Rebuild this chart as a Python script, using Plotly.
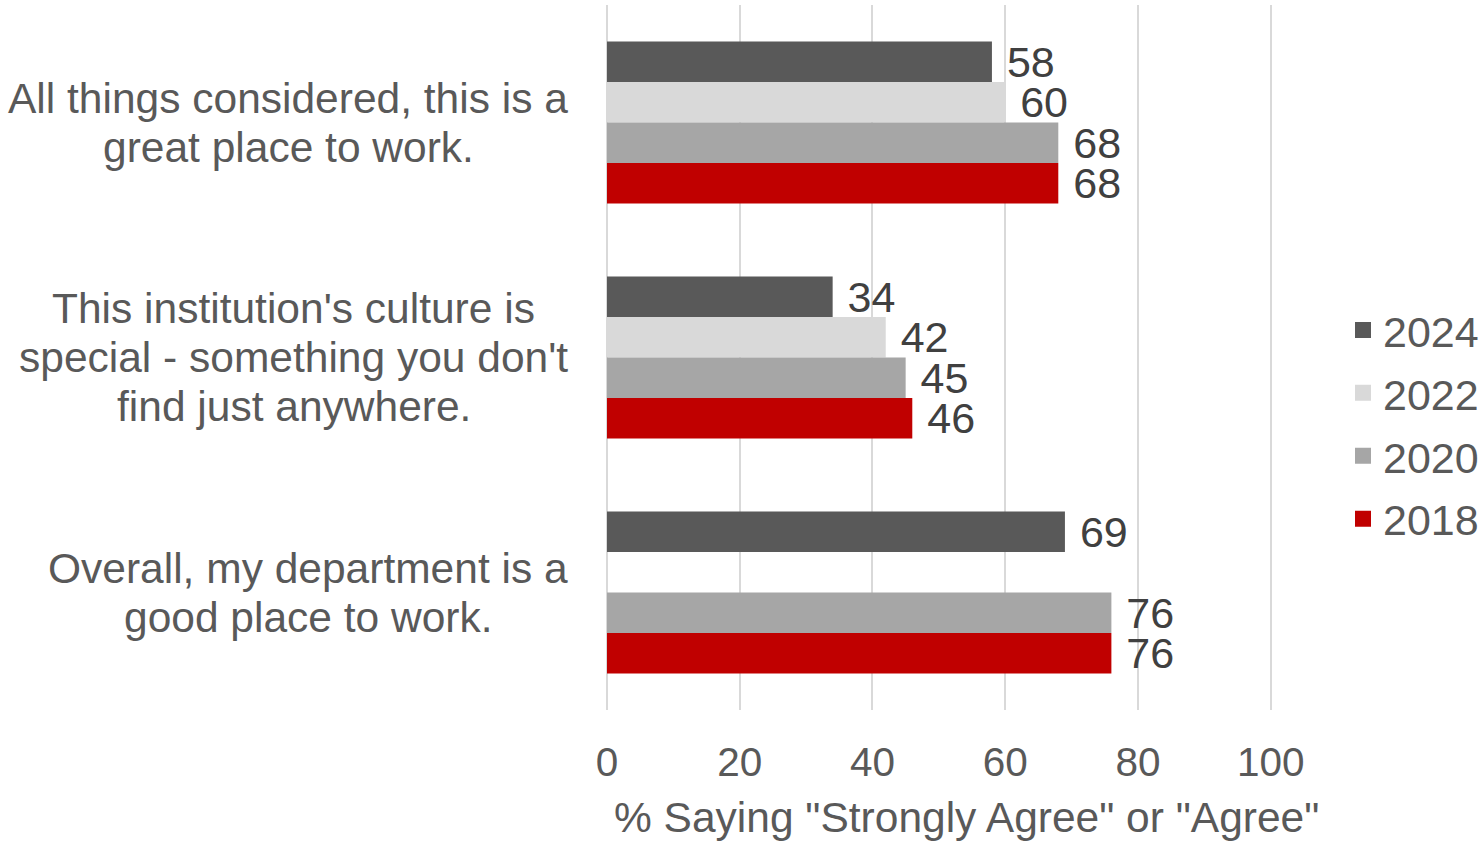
import plotly.graph_objects as go

# Survey statements (top to bottom)
categories = [
    "All things considered, this is a<br>great place to work.",
    "This institution's culture is<br>special - something you don't<br>find just anywhere.",
    "Overall, my department is a<br>good place to work.",
]

# Percent agreeing, by survey year
years = ["2024", "2022", "2020", "2018"]
values_2024 = [58, 34, 69]
values_2022 = [60, 42, None]
values_2020 = [68, 45, 76]
values_2018 = [68, 46, 76]

x_ticks = [0, 20, 40, 60, 80, 100]
x_title = '% Saying "Strongly Agree" or "Agree"'

series = [values_2024, values_2022, values_2020, values_2018]
colors = ["#595959", "#D9D9D9", "#A6A6A6", "#C00000"]

FONT = "Arial, Liberation Sans, sans-serif"
FS_CAT = 42.5
FS_VAL = 43
FS_TICK = 40.5
FS_LEG = 43
TEXT_GREY = "#595959"
LABEL_GREY = "#404040"

# Plot-area geometry in pixels
PLOT_LEFT = 607
PLOT_W = 665.3
LABEL_RIGHT = 568  # right edge of the category label blocks
LINE_H = 49

# Arial / Liberation Sans advance widths (1/1000 em) for label text
_W = {
    " ": 278, "'": 191, ",": 278, "-": 333, ".": 278,
    "A": 667, "O": 778, "T": 722,
    "a": 556, "b": 556, "c": 500, "d": 556, "e": 556, "f": 278, "g": 556,
    "h": 556, "i": 222, "j": 222, "k": 500, "l": 222, "m": 833, "n": 556,
    "o": 556, "p": 556, "q": 556, "r": 333, "s": 500, "t": 278, "u": 556,
    "v": 500, "w": 722, "x": 500, "y": 500, "z": 500,
}


def text_width(s, size):
    return sum(_W.get(ch, 556) for ch in s) / 1000 * size


fig = go.Figure()

for name, vals, col in zip(years, series, colors):
    fig.add_trace(go.Bar(
        name=name,
        y=categories,
        x=vals,
        orientation="h",
        marker=dict(color=col, line=dict(width=0)),
        text=[None if v is None else str(v) for v in vals],
        texttemplate="\u00a0%{text}",
        textposition="outside",
        constraintext="none",
        cliponaxis=False,
        outsidetextfont=dict(family=FONT, size=FS_VAL, color=LABEL_GREY),
        showlegend=False,
    ))

# Legend entries with larger square swatches
for name, col in zip(years, colors):
    fig.add_trace(go.Scatter(
        x=[None], y=[None], mode="markers", name=name,
        legendgroup=name,
        marker=dict(symbol="square", size=22, color=col),
        showlegend=True,
    ))

# Category labels: each block right-aligned, lines centred within the block
annotations = []
for cat in categories:
    lines = cat.split("<br>")
    n = len(lines)
    block_w = max(text_width(l, FS_CAT) for l in lines)
    centre_px = LABEL_RIGHT - block_w / 2
    for i, line in enumerate(lines):
        annotations.append(dict(
            x=(centre_px - PLOT_LEFT) / PLOT_W, xref="paper", y=cat, yref="y",
            text=line, showarrow=False,
            xanchor="center", yanchor="middle",
            yshift=-(i - (n - 1) / 2) * LINE_H,
            font=dict(family=FONT, size=FS_CAT, color=TEXT_GREY),
        ))

# Axis title
annotations.append(dict(
    x=(967 - PLOT_LEFT) / PLOT_W, xref="paper", y=-0.152, yref="paper",
    text=x_title, showarrow=False, xanchor="center", yanchor="middle",
    font=dict(family=FONT, size=FS_CAT, color=TEXT_GREY),
))

fig.update_layout(
    width=1483, height=841,
    margin=dict(l=PLOT_LEFT, r=211, t=5, b=131),
    paper_bgcolor="white", plot_bgcolor="white",
    barmode="group", bargap=0.31, bargroupgap=0,
    font=dict(family=FONT, size=FS_TICK, color=TEXT_GREY),
    xaxis=dict(
        range=[0, 100.2], tickvals=x_ticks,
        showgrid=True, gridcolor="#D9D9D9", gridwidth=1.5,
        zeroline=True, zerolinecolor="#D9D9D9", zerolinewidth=1.5,
        showline=False, ticks="",
        ticklabelstandoff=24,
        tickfont=dict(family=FONT, size=FS_TICK, color=TEXT_GREY),
        fixedrange=True,
    ),
    yaxis=dict(
        autorange="reversed", showticklabels=False, showgrid=False,
        zeroline=False, showline=False, ticks="", fixedrange=True,
    ),
    legend=dict(
        xref="container", yref="container",
        x=1343 / 1483, y=1 - 424.5 / 841,
        xanchor="left", yanchor="middle",
        traceorder="grouped", tracegroupgap=4,
        font=dict(family=FONT, size=FS_LEG, color=TEXT_GREY),
        bgcolor="rgba(0,0,0,0)", borderwidth=0,
        itemsizing="trace",
    ),
    annotations=annotations,
    showlegend=True,
)

fig.write_html("out.html")
